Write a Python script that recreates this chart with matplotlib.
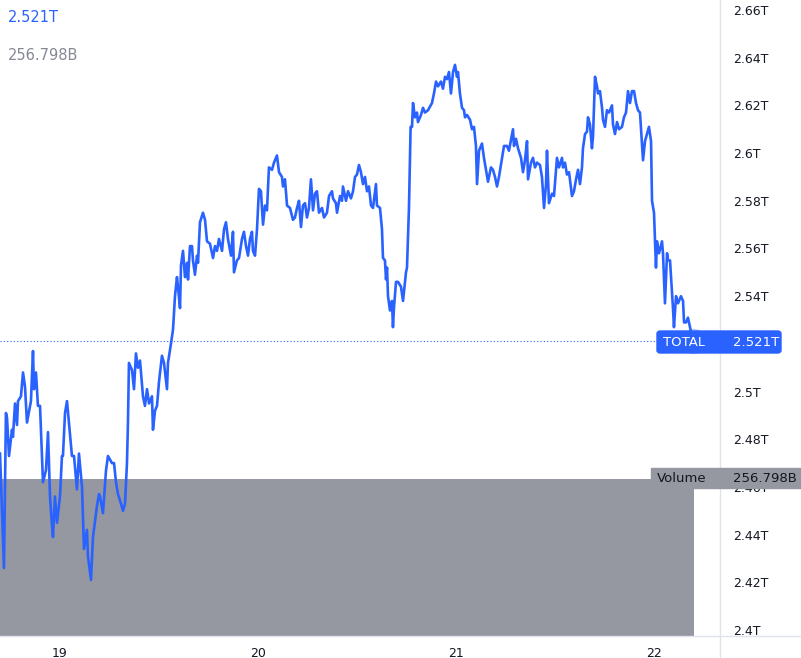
import matplotlib
matplotlib.use("Agg")
import matplotlib.pyplot as plt
from matplotlib.patches import FancyBboxPatch
from matplotlib.lines import Line2D

# hours from 19 Jan 00:00, total crypto market cap in billions USD
hours = [
    -7.27, -6.79, -6.55, -6.42, -6.18, -5.82, -5.70, -5.45, -5.21, -5.09,
    -4.73, -4.48, -4.24, -4.00, -3.52, -3.27, -3.15, -2.91, -2.67, -2.42,
    -2.06, -1.70, -1.45, -1.21, -0.97, -0.85, -0.61, -0.36, 0.00, 0.24,
    0.36, 0.61, 0.85, 1.09, 1.45, 1.70, 2.06, 2.30, 2.67, 2.91,
    3.27, 3.39, 3.76, 4.00, 4.48, 4.73, 4.85, 5.21, 5.58, 5.82,
    6.30, 6.55, 6.79, 7.03, 7.39, 7.64, 7.88, 8.12, 8.24, 8.36,
    8.73, 8.97, 9.21, 9.45, 9.70, 10.06, 10.30, 10.55, 10.79, 11.15,
    11.27, 11.52, 11.76, 12.00, 12.36, 12.61, 12.97, 13.09, 13.45, 13.70,
    13.94, 14.18, 14.30, 14.55, 14.67, 14.91, 15.15, 15.39, 15.52, 15.76,
    16.00, 16.12, 16.36, 16.61, 16.73, 16.97, 17.33, 17.58, 17.82, 18.18,
    18.55, 18.79, 19.03, 19.27, 19.64, 19.88, 20.12, 20.36, 20.73, 20.97,
    21.09, 21.45, 21.70, 22.06, 22.30, 22.55, 22.79, 23.03, 23.27, 23.39,
    23.64, 23.88, 24.12, 24.36, 24.61, 24.85, 25.09, 25.33, 25.70, 25.94,
    26.30, 26.55, 26.91, 27.03, 27.27, 27.52, 27.88, 28.24, 28.48, 28.73,
    28.97, 29.21, 29.45, 29.70, 29.94, 30.18, 30.42, 30.67, 30.91, 31.15,
    31.39, 31.76, 32.00, 32.36, 32.61, 32.97, 33.09, 33.45, 33.58, 33.94,
    34.18, 34.30, 34.67, 34.91, 35.27, 35.52, 35.76, 36.00, 36.24, 36.48,
    36.73, 36.97, 37.21, 37.45, 37.70, 37.94, 38.30, 38.42, 38.79, 39.03,
    39.15, 39.39, 39.52, 39.64, 39.76, 40.00, 40.24, 40.36, 40.48, 40.73,
    40.97, 41.33, 41.58, 41.94, 42.06, 42.30, 42.42, 42.50, 42.67, 42.79,
    43.03, 43.27, 43.39, 43.76, 44.00, 44.24, 44.61, 45.09, 45.33, 45.58,
    45.82, 46.18, 46.42, 46.67, 46.91, 47.15, 47.39, 47.64, 47.88, 48.12,
    48.24, 48.48, 48.73, 48.97, 49.09, 49.33, 49.70, 49.94, 50.18, 50.42,
    50.55, 50.79, 51.15, 51.39, 51.64, 51.88, 52.24, 52.48, 52.73, 52.97,
    53.21, 53.58, 53.82, 54.18, 54.42, 54.91, 55.03, 55.27, 55.52, 55.88,
    56.12, 56.36, 56.61, 56.73, 57.09, 57.33, 57.58, 57.82, 58.18, 58.42,
    58.67, 58.91, 59.03, 59.27, 59.64, 59.88, 60.24, 60.48, 60.85, 60.97,
    61.21, 61.45, 61.70, 62.06, 62.30, 62.55, 62.79, 63.03, 63.27, 63.39,
    63.64, 63.88, 64.00, 64.24, 64.48, 64.61, 64.85, 65.09, 65.21, 65.45,
    65.70, 65.82, 66.06, 66.30, 66.55, 66.91, 67.03, 67.27, 67.52, 67.76,
    68.12, 68.36, 68.61, 68.85, 69.09, 69.33, 69.58, 69.82, 70.06, 70.30,
    70.55, 70.67, 70.91, 71.15, 71.39, 71.64, 71.76, 72.00, 72.24, 72.36,
    72.61, 72.97, 73.09, 73.33, 73.58, 73.70, 73.94, 74.30, 74.42, 74.67,
    74.91, 75.27, 75.52, 75.64, 75.88, 76.12, 76.36, 76.73,
]
total_cap = [
    2474, 2426, 2491, 2489, 2473, 2484, 2481, 2495, 2486, 2496,
    2498, 2508, 2502, 2487, 2496, 2517, 2501, 2508, 2494, 2494,
    2462, 2467, 2483, 2456, 2444, 2439, 2456, 2445, 2456, 2473,
    2473, 2491, 2496, 2487, 2473, 2473, 2459, 2474, 2460, 2434,
    2442, 2431, 2421, 2439, 2452, 2457, 2456, 2449, 2467, 2473,
    2470, 2470, 2462, 2457, 2453, 2450, 2453, 2470, 2487, 2512,
    2509, 2501, 2516, 2510, 2513, 2498, 2494, 2501, 2495, 2498,
    2484, 2492, 2494, 2504, 2515, 2512, 2501, 2512, 2520, 2526,
    2540, 2548, 2544, 2535, 2553, 2559, 2548, 2554, 2547, 2561,
    2561, 2555, 2549, 2557, 2554, 2571, 2575, 2572, 2563, 2562,
    2556, 2561, 2559, 2564, 2559, 2568, 2571, 2564, 2557, 2567,
    2550, 2555, 2556, 2564, 2567, 2561, 2557, 2564, 2567, 2559,
    2557, 2568, 2585, 2584, 2570, 2578, 2576, 2594, 2593, 2596,
    2599, 2592, 2590, 2586, 2589, 2578, 2577, 2572, 2573, 2577,
    2580, 2569, 2578, 2579, 2573, 2577, 2589, 2576, 2583, 2584,
    2575, 2577, 2573, 2575, 2582, 2584, 2581, 2579, 2575, 2582,
    2580, 2586, 2580, 2584, 2581, 2584, 2590, 2591, 2595, 2592,
    2587, 2590, 2584, 2586, 2578, 2577, 2587, 2578, 2577, 2568,
    2556, 2555, 2547, 2552, 2540, 2534, 2538, 2527, 2535, 2546,
    2546, 2544, 2538, 2550, 2552, 2577, 2598, 2611, 2611, 2621,
    2615, 2617, 2613, 2616, 2619, 2617, 2618, 2621, 2625, 2630,
    2628, 2630, 2627, 2632, 2631, 2634, 2625, 2634, 2637, 2632,
    2634, 2625, 2619, 2618, 2615, 2616, 2614, 2610, 2611, 2603,
    2587, 2601, 2604, 2598, 2593, 2588, 2594, 2593, 2590, 2586,
    2590, 2598, 2603, 2603, 2601, 2610, 2603, 2606, 2602, 2598,
    2592, 2597, 2605, 2589, 2596, 2598, 2594, 2596, 2595, 2590,
    2577, 2587, 2601, 2579, 2583, 2582, 2598, 2594, 2598, 2594,
    2596, 2591, 2592, 2582, 2584, 2589, 2593, 2587, 2594, 2602,
    2608, 2609, 2615, 2612, 2602, 2607, 2632, 2628, 2625, 2626,
    2619, 2614, 2611, 2618, 2617, 2620, 2612, 2608, 2613, 2610,
    2611, 2615, 2617, 2626, 2621, 2626, 2626, 2621, 2618, 2617,
    2603, 2597, 2605, 2608, 2611, 2605, 2580, 2575, 2552, 2563,
    2558, 2563, 2558, 2537, 2558, 2555, 2555, 2535, 2527, 2540,
    2537, 2540, 2538, 2529, 2529, 2531, 2527, 2521,
]

day_ticks = [0, 24, 48, 72]
day_labels = ["19", "20", "21", "22"]
price_ticks = list(range(2400, 2661, 20))

volume_b = 256.798
volume_span = (-10.0, 76.85)

BLUE = "#2962FF"
GREY_BAR = "#9598a1"
TEXT = "#131722"
BORDER = "#e0e3eb"

W, H = 801, 658
fig = plt.figure(figsize=(W / 100, H / 100), dpi=100)
rect = [0, (H - 636) / H, 720 / W, 636 / H]

# volume pane (behind the price line)
ax_vol = fig.add_axes(rect)
ax_vol.bar(volume_span[0], volume_b, width=volume_span[1] - volume_span[0],
           align="edge", color=GREY_BAR, linewidth=0)
ax_vol.set_xlim(-7.27, 80.0)
ax_vol.set_ylim(0, volume_b * 636 / 157)
ax_vol.axis("off")

ax = fig.add_axes(rect)
ax.patch.set_visible(False)
ax.plot(hours, total_cap, color=BLUE, linewidth=1.9, solid_joinstyle="round")
last = total_cap[-1]
ax.axhline(last, color=BLUE, linestyle=(0, (1, 2)), linewidth=0.8)

ax.set_xlim(-7.27, 80.0)
ax.set_ylim(2397.5, 2664.2)
ax.set_xticks(day_ticks, day_labels)
ax.set_yticks(price_ticks, [f"{v / 1000:g}T" for v in price_ticks])
ax.yaxis.tick_right()
ax.tick_params(axis="y", length=0, pad=9.5, labelsize=9, labelcolor=TEXT)
ax.tick_params(axis="x", length=0, pad=8, labelsize=9, labelcolor=TEXT)
for s in ax.spines.values():
    s.set_visible(False)

# pane borders
fig.add_artist(Line2D([720 / W, 720 / W], [0, 1], color=BORDER, lw=1))
fig.add_artist(Line2D([0, 1], [(H - 636) / H] * 2, color=BORDER, lw=1))


def px(x, y):
    return x / W, 1 - y / H


# price label
fig.add_artist(FancyBboxPatch(px(657, 353), 124 / W, 22 / H,
                              boxstyle="round,pad=0,rounding_size=0.004",
                              transform=fig.transFigure, color=BLUE, zorder=5))
fig.text(*px(663, 342), "TOTAL", color="white", fontsize=9.5, va="center", zorder=6)
fig.text(*px(733, 342), f"{last / 1000:.3f}T", color="white", fontsize=9.5,
         va="center", zorder=6)

# crosshair ring on the last point, drawn over the label
ring = Line2D([hours[-1]], [last], marker="o", ms=17, mfc="none", mec=BLUE,
              mew=1.2, alpha=0.35, transform=ax.transData, zorder=7)
fig.add_artist(ring)

# volume label
fig.add_artist(FancyBboxPatch(px(651, 488), 150 / W, 20 / H,
                              boxstyle="square,pad=0",
                              transform=fig.transFigure, color=GREY_BAR, zorder=5))
fig.text(*px(657, 478), "Volume", color=TEXT, fontsize=9.5, va="center", zorder=6)
fig.text(*px(733, 478), f"{volume_b:.3f}B", color=TEXT, fontsize=9.5,
         va="center", zorder=6)

# legend values top-left
fig.text(*px(8, 17), f"{last / 1000:.3f}T", color=BLUE, fontsize=10.5, va="center")
fig.text(*px(8, 56), f"{volume_b:.3f}B", color="#868993", fontsize=10.5, va="center")

fig.savefig("out.png", dpi=100)
